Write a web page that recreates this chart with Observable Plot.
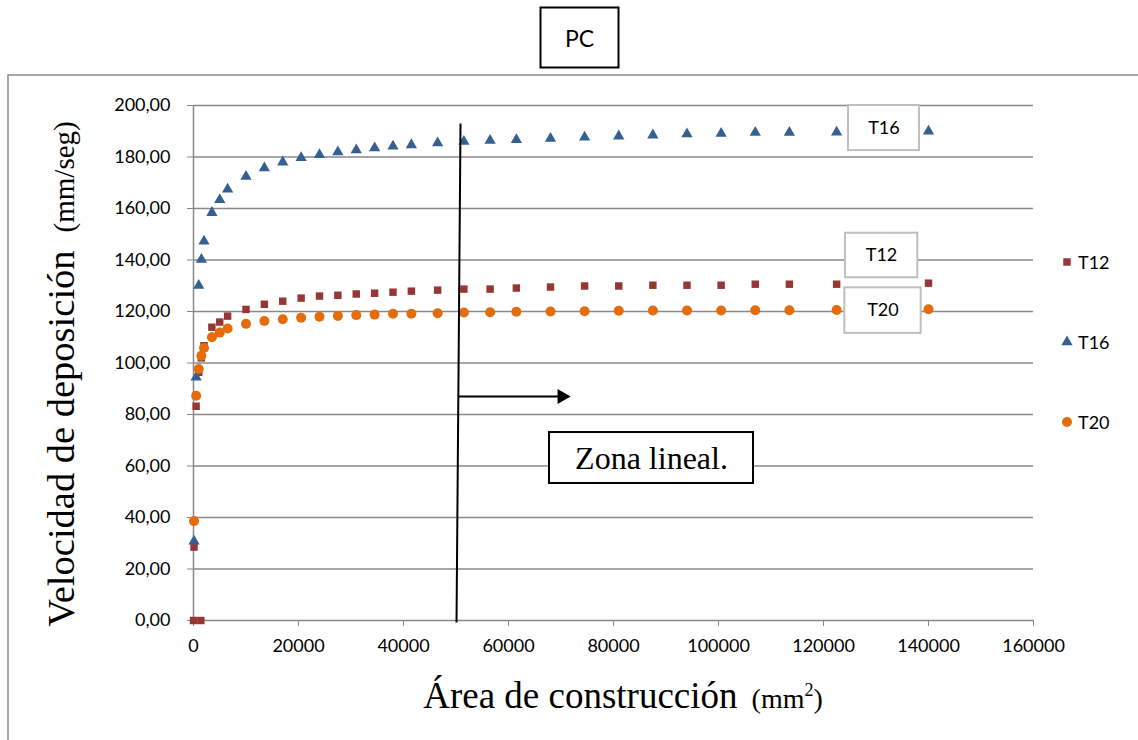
<!DOCTYPE html>
<html><head><meta charset="utf-8">
<script src="https://cdn.jsdelivr.net/npm/d3@7"></script>
<script src="https://cdn.jsdelivr.net/npm/@observablehq/plot@0.6"></script>
<style>body{margin:0;background:#fff} svg{display:block}</style>
</head><body><div id="chart"></div>
<script>
// ---- data ----
const areas = [100, 500, 1000, 1500, 2000, 3500, 5000, 6500, 10000, 13500, 17000, 20500, 24000, 27500, 31000, 34500, 38000, 41500, 46500, 51500, 56500, 61500, 68000, 74500, 81000, 87500, 94000, 100500, 107000, 113500, 122500, 140000];
const t12 = [28.5, 83.2, 96.4, 102.0, 106.7, 113.9, 115.9, 118.2, 120.8, 122.8, 124.0, 125.2, 126.0, 126.3, 126.8, 127.1, 127.5, 127.9, 128.3, 128.7, 128.7, 129.1, 129.5, 129.9, 129.9, 130.2, 130.2, 130.2, 130.6, 130.6, 130.6, 131.0];
const t16 = [30.8, 94.5, 130.1, 140.2, 147.3, 158.4, 163.4, 167.5, 172.4, 175.7, 178.0, 179.7, 180.9, 181.9, 182.7, 183.5, 184.2, 184.7, 185.4, 186.0, 186.4, 186.7, 187.2, 187.7, 188.1, 188.5, 188.9, 189.1, 189.5, 189.5, 189.6, 190.0];
const t20 = [38.6, 87.3, 97.7, 102.8, 105.8, 110.0, 111.8, 113.4, 115.2, 116.3, 117.0, 117.6, 118.0, 118.3, 118.6, 118.8, 119.1, 119.1, 119.3, 119.6, 119.7, 119.9, 120.0, 120.1, 120.3, 120.4, 120.4, 120.4, 120.5, 120.5, 120.6, 120.9];
const t12ZeroAreas = [0, 1400];
const t12ZeroValues = [0, 0];
const xTicks = [0, 20000, 40000, 60000, 80000, 100000, 120000, 140000, 160000];
const yTicks = [0, 20, 40, 60, 80, 100, 120, 140, 160, 180, 200];
const seriesNames = ["T12", "T16", "T20"];
const seriesColors = ["#953735", "#376092", "#E46C0A"];
const seriesSymbols = ["square", "triangle", "circle"];
const seriesR = [4.2, 4.2, 5];

// annotations (data coordinates)
const labelBoxes = [
  {name: "T16", x1: 124760, x2: 138280, y1: 182.5, y2: 200.0, tx: 131500, ty: 191.3},
  {name: "T12", x1: 124190, x2: 137960, y1: 133.1, y2: 150.4, tx: 131050, ty: 141.7},
  {name: "T20", x1: 124060, x2: 138610, y1: 111.5, y2: 129.2, tx: 131330, ty: 120.4}
];
const zoneLine = [{x1: 50860, y1: 193.0, x2: 50100, y2: -0.8}];
const zoneArrow = [{x1: 50480, x2: 70000, y: 87.0, tip: 70170}];
const zoneBox = [{text: "Zona lineal.", x1: 67810, x2: 106670, y1: 53.2, y2: 73.0, tx: 87240, ty: 62.9}];

// ---- rows ----
const valuesBySeries = [t12, t16, t20];
const rows = seriesNames.map((s, k) => areas.map((a, i) => ({serie: s, area: a, v: valuesBySeries[k][i]})));
rows[0] = t12ZeroAreas.map((a, i) => ({serie: "T12", area: a, v: t12ZeroValues[i]})).concat(rows[0]);

const fmtY = d => d.toFixed(2).replace(".", ",");
const grey = "#898989";
const sans = "Lato, 'Open Sans', sans-serif";
const serif = "'Liberation Serif', 'Times New Roman', serif";

const plot = Plot.plot({
  width: 1138, height: 740,
  marginLeft: 193, marginRight: 105, marginTop: 105, marginBottom: 120,
  style: {fontFamily: sans, fontSize: "18px", color: "#000", background: "#fff"},
  x: {domain: [0, 160000]},
  y: {domain: [0, 200]},
  marks: [
    Plot.gridY({ticks: yTicks, stroke: grey, strokeOpacity: 1, strokeWidth: 1.5}),
    Plot.ruleX([0], {y1: 0, y2: 200, stroke: grey, strokeWidth: 1.5}),
    Plot.axisY({ticks: yTicks, tickFormat: fmtY, tickSize: 6, tickPadding: 17, stroke: grey, fill: "#000", label: null, fontSize: 18}),
    Plot.axisX({ticks: xTicks, tickFormat: d => String(d), tickSize: 6, tickPadding: 13, stroke: grey, fill: "#000", label: null, fontSize: 18}),
    ...seriesNames.map((s, k) => Plot.dot(rows[k], {x: "area", y: "v", symbol: seriesSymbols[k], r: seriesR[k], fill: seriesColors[k]})),
    Plot.rect(labelBoxes, {x1: "x1", x2: "x2", y1: "y1", y2: "y2", fill: "white", stroke: "#BFBFBF", strokeWidth: 2}),
    Plot.text(labelBoxes, {x: "tx", y: "ty", text: "name", fontSize: 18, fill: "#000"}),
    Plot.link(zoneLine, {x1: "x1", y1: "y1", x2: "x2", y2: "y2", stroke: "#000", strokeWidth: 2}),
    Plot.link(zoneArrow, {x1: "x1", x2: "x2", y1: "y", y2: "y", stroke: "#000", strokeWidth: 2}),
    Plot.dot(zoneArrow, {x: "tip", y: "y", symbol: "triangle", rotate: 90, r: 5.6, fill: "#000"}),
    Plot.rect(zoneBox, {x1: "x1", x2: "x2", y1: "y1", y2: "y2", fill: "white", stroke: "#000", strokeWidth: 2}),
    Plot.text(zoneBox, {x: "tx", y: "ty", text: "text", fontSize: 32, fontFamily: serif, fill: "#000"})
  ]
});
document.getElementById("chart").appendChild(plot);

// ---- layout extras ----
const svg = d3.select(plot);
// outer chart border (left and top)
svg.append("path").attr("d", "M8,740V75H1138").attr("fill", "none").attr("stroke", grey).attr("stroke-width", 1.5);
// title box
svg.append("rect").attr("x", 540.5).attr("y", 7.5).attr("width", 78).attr("height", 60)
  .attr("fill", "white").attr("stroke", "#000").attr("stroke-width", 2);
svg.append("text").attr("x", 579.5).attr("y", 38).attr("text-anchor", "middle").attr("dominant-baseline", "central")
  .attr("font-family", sans).attr("font-size", 23).text("PC");
// y axis title
const yt = svg.append("text").attr("transform", "translate(74,374) rotate(-90)").attr("text-anchor", "middle")
  .attr("font-family", serif).attr("fill", "#000");
yt.append("tspan").attr("font-size", 38.5).text("Velocidad de deposición");
yt.append("tspan").attr("font-size", 29).attr("dx", 18).text("(mm/seg)");
// x axis title
const xt = svg.append("text").attr("x", 623).attr("y", 708).attr("text-anchor", "middle")
  .attr("font-family", serif).attr("fill", "#000");
xt.append("tspan").attr("font-size", 37).text("Área de construcción");
xt.append("tspan").attr("font-size", 28).attr("dx", 14).text("(mm");
xt.append("tspan").attr("font-size", 18).attr("dy", -12).text("2");
xt.append("tspan").attr("font-size", 28).attr("dy", 12).text(")");
// legend
const legendY = [262, 342, 422];
seriesNames.forEach((s, k) => {
  const size = Math.PI * seriesR[k] * seriesR[k];
  const sym = {square: d3.symbolSquare, triangle: d3.symbolTriangle, circle: d3.symbolCircle}[seriesSymbols[k]];
  svg.append("path").attr("transform", `translate(1067,${legendY[k]})`)
    .attr("d", d3.symbol(sym, size)()).attr("fill", seriesColors[k]);
  svg.append("text").attr("x", 1078).attr("y", legendY[k]).attr("text-anchor", "start").attr("dominant-baseline", "central")
    .attr("font-family", sans).attr("font-size", 18).attr("fill", "#000").text(s);
});
</script>
</body></html>
